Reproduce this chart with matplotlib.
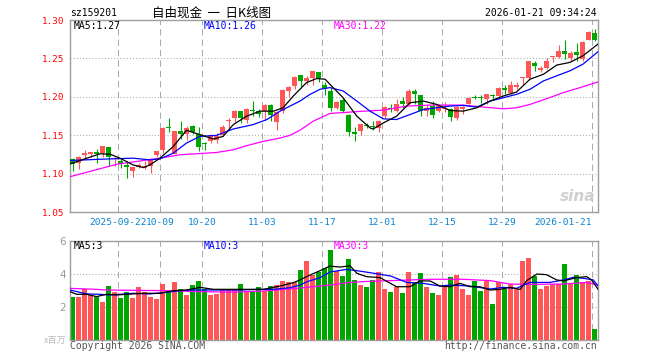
import matplotlib
matplotlib.use("Agg")
import matplotlib.pyplot as plt

plt.rcParams['font.family'] = ['DejaVu Sans', 'Noto Sans CJK SC']

# daily candles, 2025-09-10 .. 2026-01-21 (88 trading days)
opens = [1.119, 1.114, 1.124, 1.125, 1.128, 1.127, 1.134, 1.119, 1.117, 1.111,
         1.104, 1.108, 1.107, 1.110, 1.124, 1.131, 1.161, 1.125, 1.156, 1.152,
         1.162, 1.151, 1.139, 1.143, 1.144, 1.150, 1.168, 1.173, 1.181, 1.170,
         1.183, 1.182, 1.181, 1.189, 1.167, 1.181, 1.208, 1.214, 1.228, 1.221,
         1.224, 1.232, 1.216, 1.208, 1.185, 1.196, 1.176, 1.154, 1.156, 1.1635,
         1.162, 1.160, 1.175, 1.185, 1.181, 1.195, 1.191, 1.208, 1.202, 1.181,
         1.188, 1.181, 1.184, 1.184, 1.172, 1.184, 1.191, 1.1995, 1.200, 1.197,
         1.2015, 1.201, 1.211, 1.205, 1.213, 1.225, 1.224, 1.244, 1.235, 1.238,
         1.252, 1.252, 1.260, 1.251, 1.258, 1.249, 1.2745, 1.283]
closes = [1.113, 1.121, 1.127, 1.128, 1.125, 1.136, 1.122, 1.120, 1.113, 1.108,
          1.108, 1.111, 1.110, 1.118, 1.129, 1.160, 1.160, 1.155, 1.152, 1.160,
          1.154, 1.135, 1.138, 1.150, 1.149, 1.161, 1.169, 1.181, 1.173, 1.184,
          1.182, 1.177, 1.189, 1.176, 1.180, 1.209, 1.213, 1.226, 1.221, 1.224,
          1.233, 1.224, 1.210, 1.186, 1.193, 1.182, 1.154, 1.151, 1.164, 1.1625,
          1.161, 1.169, 1.187, 1.184, 1.191, 1.191, 1.208, 1.204, 1.182, 1.186,
          1.176, 1.188, 1.185, 1.174, 1.187, 1.187, 1.198, 1.199, 1.198, 1.203,
          1.201, 1.211, 1.209, 1.215, 1.216, 1.226, 1.246, 1.240, 1.237, 1.247,
          1.253, 1.260, 1.256, 1.257, 1.254, 1.272, 1.2845, 1.2745]
highs = [1.120, 1.123, 1.131, 1.128, 1.132, 1.136, 1.135, 1.122, 1.119, 1.116,
         1.109, 1.114, 1.117, 1.120, 1.130, 1.161, 1.172, 1.155, 1.168, 1.162,
         1.163, 1.161, 1.141, 1.152, 1.153, 1.163, 1.172, 1.183, 1.182, 1.185,
         1.194, 1.184, 1.190, 1.190, 1.182, 1.210, 1.214, 1.227, 1.228, 1.227,
         1.233, 1.232, 1.219, 1.212, 1.195, 1.199, 1.177, 1.161, 1.165, 1.166,
         1.168, 1.170, 1.188, 1.190, 1.197, 1.200, 1.210, 1.210, 1.202, 1.189,
         1.194, 1.190, 1.193, 1.186, 1.188, 1.188, 1.200, 1.202, 1.202, 1.203,
         1.204, 1.213, 1.216, 1.220, 1.219, 1.226, 1.246, 1.246, 1.240, 1.250,
         1.253, 1.268, 1.274, 1.259, 1.270, 1.273, 1.2855, 1.2885]
lows = [1.103, 1.106, 1.119, 1.122, 1.114, 1.121, 1.110, 1.110, 1.107, 1.094,
        1.096, 1.107, 1.106, 1.101, 1.121, 1.127, 1.154, 1.125, 1.145, 1.144,
        1.151, 1.130, 1.131, 1.140, 1.140, 1.149, 1.157, 1.167, 1.166, 1.166,
        1.175, 1.174, 1.170, 1.168, 1.157, 1.179, 1.200, 1.210, 1.212, 1.216,
        1.216, 1.219, 1.202, 1.181, 1.184, 1.180, 1.149, 1.142, 1.150, 1.160,
        1.157, 1.154, 1.173, 1.180, 1.180, 1.186, 1.189, 1.190, 1.175, 1.175,
        1.173, 1.180, 1.180, 1.168, 1.170, 1.177, 1.190, 1.197, 1.192, 1.191,
        1.197, 1.200, 1.203, 1.204, 1.210, 1.216, 1.223, 1.234, 1.232, 1.236,
        1.245, 1.251, 1.249, 1.247, 1.247, 1.247, 1.274, 1.273]
# volume, millions
volumes = [2.61, 2.61, 3.07, 2.73, 2.61, 2.30, 3.27, 2.91, 2.55, 2.91,
           2.55, 3.21, 2.91, 2.61, 2.48, 3.39, 2.91, 3.52, 3.09, 2.73,
           3.33, 3.58, 3.09, 2.73, 2.79, 3.03, 3.09, 3.03, 3.39, 2.97,
           2.91, 3.21, 2.97, 3.27, 3.33, 3.58, 3.52, 3.52, 4.24, 4.79,
           3.94, 4.12, 4.36, 5.45, 4.18, 3.88, 4.91, 3.64, 3.33, 3.21,
           3.64, 4.14, 3.09, 2.91, 3.21, 2.85, 4.14, 3.52, 4.06, 3.21,
           2.85, 2.73, 3.21, 3.82, 3.94, 3.09, 2.73, 3.58, 2.97, 3.64,
           2.18, 3.52, 3.09, 3.39, 3.09, 4.79, 4.97, 3.88, 3.09, 3.27,
           3.39, 3.39, 4.61, 3.39, 3.94, 3.52, 3.58, 0.67]

# moving average lines (x = candle index)
ma5_x = [-0.4, 2.4, 4.6, 6.25, 7.9, 10.1, 11.8, 12.9, 14.6, 16.8, 19.0, 21.25, 23.5,
         25.1, 26.8, 29.0, 31.25, 33.5, 35.1, 36.8, 39.0, 40.7, 42.1, 42.9, 45.1,
         47.4, 49.6, 50.1, 51.8, 54.0, 56.25, 58.5, 60.7, 62.9, 65.1, 67.4, 69.6,
         71.8, 74.0, 76.25, 78.5, 80.7, 82.9, 85.1, 87.6]
ma5_y = [1.1126, 1.1201, 1.1258, 1.1253, 1.1201, 1.1113, 1.1078, 1.1113, 1.1201,
         1.1354, 1.1564, 1.1507, 1.1450, 1.1485, 1.1638, 1.1747, 1.1813, 1.1813,
         1.1857, 1.2010, 1.2185, 1.2238, 1.2229, 1.2163, 1.1988, 1.1747, 1.1595,
         1.1581, 1.1660, 1.1747, 1.1923, 1.1944, 1.1901, 1.1822, 1.1813, 1.1857,
         1.1944, 1.2010, 1.2062, 1.2229, 1.2294, 1.2413, 1.2448, 1.2535, 1.2688]
ma10_x = [-0.4, 4.6, 10.1, 12.9, 14.6, 16.8, 19.0, 21.25, 24.0, 26.8, 30.1, 32.4,
          34.6, 36.25, 37.9, 39.6, 41.25, 42.9, 45.1, 47.4, 49.6, 51.8, 54.0, 56.25,
          58.5, 60.7, 62.9, 65.1, 67.4, 69.6, 71.8, 74.0, 76.25, 78.5, 80.7, 82.9,
          85.1, 87.6]
ma10_y = [1.1170, 1.1187, 1.1201, 1.1179, 1.1192, 1.1266, 1.1398, 1.1485, 1.1498,
          1.1581, 1.1638, 1.1704, 1.1813, 1.1879, 1.1944, 1.2032, 1.2098, 1.2120,
          1.2076, 1.1944, 1.1813, 1.1713, 1.1704, 1.1769, 1.1835, 1.1857, 1.1879,
          1.1888, 1.1866, 1.1944, 1.1988, 1.2032, 1.2098, 1.2207, 1.2273, 1.2338,
          1.2426, 1.2588]
ma30_x = [-0.4, 7.4, 14.6, 17.9, 24.0, 26.8, 29.0, 31.8, 34.6, 36.25, 37.9, 40.1,
          42.9, 48.5, 51.8, 55.7, 59.6, 65.1, 68.5, 71.8, 74.0, 76.25, 79.0, 81.8,
          84.6, 87.6]
ma30_y = [1.0960, 1.1122, 1.1201, 1.1245, 1.1275, 1.1310, 1.1363, 1.1420, 1.1463,
          1.1498, 1.1564, 1.1682, 1.1783, 1.1813, 1.1826, 1.1879, 1.1892, 1.1892,
          1.1866, 1.1844, 1.1857, 1.1901, 1.1975, 1.2054, 1.2120, 1.2194]

vma5_x = [-0.4, 0.7, 2.4, 4.0, 5.7, 7.4, 9.0, 11.8, 14.6, 16.8, 19.0, 21.25, 23.5,
          26.8, 29.6, 31.8, 34.6, 36.8, 37.9, 39.6, 41.25, 42.9, 44.6, 46.25, 47.4,
          49.0, 51.25, 54.0, 56.25, 57.9, 59.6, 61.25, 62.9, 64.6, 66.25, 67.9, 69.6,
          71.25, 72.9, 74.6, 75.7, 77.4, 79.0, 80.7, 81.8, 84.0, 85.7, 86.5, 87.6]
vma5_y = [2.93, 2.77, 2.77, 2.63, 2.77, 2.73, 2.77, 2.83, 2.83, 2.99, 3.03, 3.19, 3.07,
          3.07, 3.07, 3.07, 3.27, 3.47, 3.64, 3.94, 4.20, 4.48, 4.42, 4.50, 4.04,
          3.84, 3.78, 3.23, 3.23, 3.58, 3.58, 3.27, 3.23, 3.43, 3.23, 3.23, 3.03,
          3.07, 3.19, 3.07, 3.60, 4.00, 3.96, 3.64, 3.58, 3.78, 3.84, 3.64, 3.07]
vma10_x = [-0.4, 2.4, 4.6, 6.25, 7.9, 10.1, 12.9, 15.7, 17.9, 20.1, 22.4, 25.7, 27.9,
           31.25, 33.5, 36.25, 37.9, 39.0, 41.25, 42.9, 45.7, 47.4, 49.6, 53.0, 55.7,
           58.5, 61.25, 62.9, 66.25, 69.6, 71.8, 74.0, 75.2, 76.25, 79.6, 81.8, 83.5,
           85.1, 86.8, 87.6]
vma10_y = [3.03, 2.79, 2.77, 2.73, 2.77, 2.83, 2.79, 2.89, 2.99, 3.03, 3.03, 3.03, 3.03,
           3.07, 3.07, 3.17, 3.33, 3.52, 3.78, 4.12, 4.28, 4.20, 4.08, 3.88, 3.49,
           3.43, 3.27, 3.33, 3.27, 3.09, 3.19, 3.13, 3.33, 3.49, 3.49, 3.64, 3.80,
           3.74, 3.64, 3.27]
vma30_x = [-0.4, 4.0, 5.7, 15.7, 21.25, 26.8, 31.8, 37.4, 42.9, 45.7, 48.5, 53.0,
           59.6, 65.1, 69.6, 72.9, 76.25, 81.8, 85.7, 87.6]
vma30_y = [3.13, 3.07, 3.03, 2.99, 2.93, 2.90, 2.97, 3.13, 3.33, 3.47, 3.54, 3.60,
           3.68, 3.68, 3.60, 3.39, 3.37, 3.39, 3.49, 3.33]

date_idx = [8, 15, 22, 32, 42, 52, 62, 72, 87]
date_labels = ['2025-09-22', '10-09', '10-20', '11-03', '11-17', '12-01', '12-15',
               '12-29', '2026-01-21']
price_ticks = [1.05, 1.10, 1.15, 1.20, 1.25, 1.30]
vol_ticks = [2, 4, 6]

RED = '#FF5757'
GREEN = '#00A600'
GRID = '#ABABAB'
FRAME = '#9E9E9E'
MONO = 'DejaVu Sans Mono'

W, H = 660, 360


def rect(x0, y0, x1, y1):
    return [x0 / W, 1 - y1 / H, (x1 - x0) / W, (y1 - y0) / H]


def ftext(x, y, s, **kw):
    fig.text(x / W, 1 - y / H, s, va='center', **kw)


fig = plt.figure(figsize=(6.6, 3.6), dpi=100)
ax = fig.add_axes(rect(70, 20, 598, 212))
axv = fig.add_axes(rect(70, 241, 598, 340))

n = len(closes)
xs = list(range(n))
colors = [RED if c >= o else GREEN for o, c in zip(opens, closes)]
grid_x = [i - 0.37 for i in date_idx]

for a in (ax, axv):
    a.set_xlim(-2.5 / 6, n - 2.5 / 6)
    for x in grid_x:
        a.axvline(x, color=GRID, lw=0.75, ls=(0, (6, 4)), zorder=0)
    for s in a.spines.values():
        s.set_color(FRAME)
        s.set_linewidth(1.0)
    a.tick_params(length=0)

# price panel
ax.set_ylim(1.05, 1.30)
for y in price_ticks[1:-1]:
    ax.axhline(y, color=GRID, lw=0.75, ls=(0, (1, 2)), zorder=0)
ax.vlines(xs, lows, highs, colors=colors, lw=0.8, zorder=2)
bottoms = [min(o, c) for o, c in zip(opens, closes)]
heights = [max(abs(c - o), 0.0012) for o, c in zip(opens, closes)]
ax.bar(xs, heights, bottom=bottoms, width=5 / 6, color=colors, lw=0, zorder=3)
ax.plot(ma30_x, ma30_y, color='#FF00FF', lw=0.9, zorder=4)
ax.plot(ma10_x, ma10_y, color='#0000FF', lw=0.9, zorder=4)
ax.plot(ma5_x, ma5_y, color='black', lw=0.9, zorder=4)
ax.set_yticks(price_ticks)
ax.set_yticklabels(['%.2f' % t for t in price_ticks], color='red',
                   family=MONO, fontsize=6.7)
ax.tick_params(axis='y', pad=4)
ax.set_xticks(grid_x)
xl = ax.set_xticklabels(date_labels, color='#0A84CF', family=MONO, fontsize=6.8)
xl[-1].set_ha('right')
ax.tick_params(axis='x', pad=4)
ax.text(0.995, 0.04, 'sina', transform=ax.transAxes, ha='right', va='bottom',
        fontsize=11, fontweight='bold', style='italic', color='#D0D0D0', zorder=1)

# volume panel
axv.set_ylim(0, 6)
for y in (2, 4):
    axv.axhline(y, color=GRID, lw=0.75, ls=(0, (1, 2)), zorder=0)
axv.bar(xs, volumes, width=5 / 6, color=colors, lw=0, zorder=2)
axv.plot(vma30_x, vma30_y, color='#FF00FF', lw=0.9, zorder=4)
axv.plot(vma10_x, vma10_y, color='#0000FF', lw=0.9, zorder=4)
axv.plot(vma5_x, vma5_y, color='black', lw=0.9, zorder=4)
axv.set_yticks(vol_ticks)
axv.set_yticklabels([str(t) for t in vol_ticks], color='#999999', fontsize=7.5)
axv.tick_params(axis='y', pad=3)
axv.set_xticks([])

# header and labels
ftext(70, 13, 'sz159201', ha='left', family=MONO, fontsize=7)
ftext(211.5, 13, '自由现金  一  日K线图', ha='center', family='Noto Sans CJK SC', fontsize=9)
ftext(597, 13, '2026-01-21 09:34:24', ha='right', family=MONO, fontsize=7)
ftext(74, 26, 'MA5:1.27', ha='left', family=MONO, fontsize=7, color='black')
ftext(204, 26, 'MA10:1.26', ha='left', family=MONO, fontsize=7, color='#0000FF')
ftext(334, 26, 'MA30:1.22', ha='left', family=MONO, fontsize=7, color='#FF00FF')
ftext(74, 246, 'MA5:3', ha='left', family=MONO, fontsize=7, color='black')
ftext(204, 246, 'MA10:3', ha='left', family=MONO, fontsize=7, color='#0000FF')
ftext(334, 246, 'MA30:3', ha='left', family=MONO, fontsize=7, color='#FF00FF')
ftext(66, 340, 'x百万', ha='right', family='Noto Sans CJK SC', fontsize=6.5, color='#BBBBBB')
ftext(70, 346, 'Copyright 2026 SINA.COM', ha='left', family=MONO, fontsize=7, color='#555555')
ftext(597, 346, 'http://finance.sina.com.cn', ha='right', family=MONO, fontsize=7,
      color='#555555')

fig.savefig('out.png', dpi=100)
